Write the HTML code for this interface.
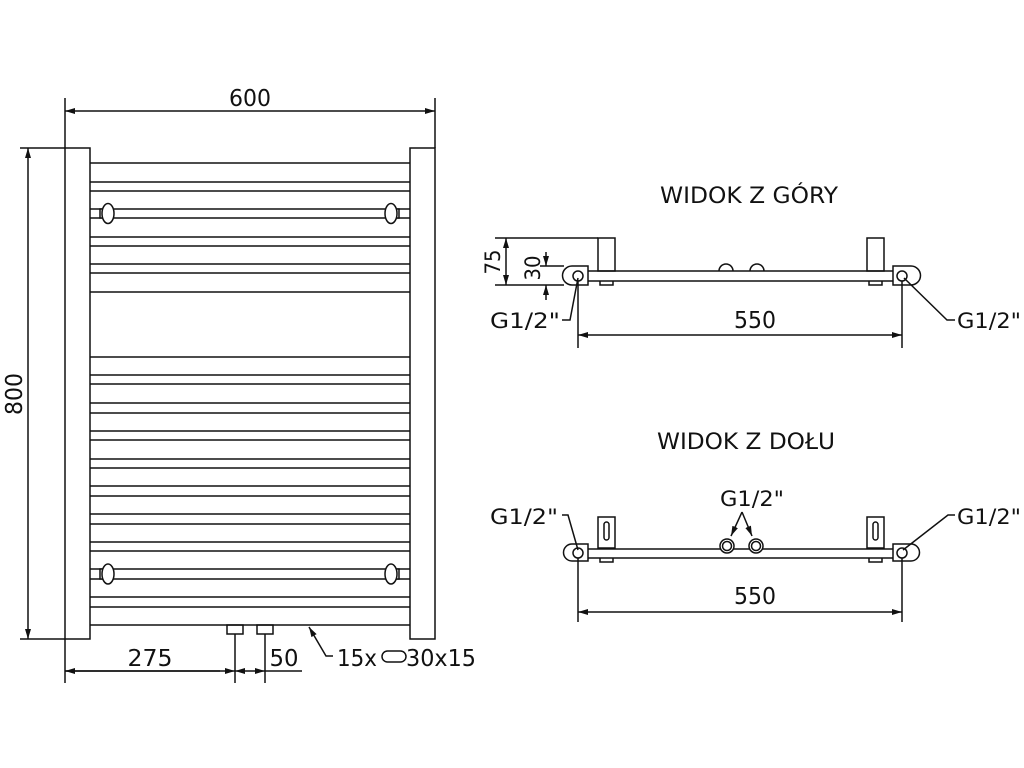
<!DOCTYPE html>
<html><head><meta charset="utf-8"><style>html,body{margin:0;padding:0;background:#fff}svg{display:block}</style></head>
<body>
<svg width="1024" height="768" viewBox="0 0 1024 768" xmlns="http://www.w3.org/2000/svg" font-family="'DejaVu Sans','Liberation Sans',sans-serif" fill="none" stroke="#111" stroke-width="1.5">
<defs>
<marker id="a" viewBox="0 0 10 6" refX="10" refY="3" markerWidth="10" markerHeight="6" orient="auto-start-reverse" markerUnits="userSpaceOnUse"><path d="M0,0L10,3L0,6z" fill="#111" stroke="none"/></marker>
</defs>
<g fill="#111" stroke="none">
<text x="250" y="106" font-size="23" text-anchor="middle" textLength="42" lengthAdjust="spacingAndGlyphs">600</text>
<text transform="translate(22,394) rotate(-90)" font-size="23" text-anchor="middle" textLength="42" lengthAdjust="spacingAndGlyphs">800</text>
<text x="150" y="666" font-size="23" text-anchor="middle" textLength="45" lengthAdjust="spacingAndGlyphs">275</text>
<text x="284" y="666" font-size="23" text-anchor="middle" textLength="29" lengthAdjust="spacingAndGlyphs">50</text>
<text x="337" y="666" font-size="23" textLength="40" lengthAdjust="spacingAndGlyphs">15x</text>
<text x="406" y="666" font-size="23" textLength="70" lengthAdjust="spacingAndGlyphs">30x15</text>
<text x="660" y="203" font-size="22" textLength="178" lengthAdjust="spacingAndGlyphs">WIDOK Z GÓRY</text>
<text transform="translate(500,262) rotate(-90)" font-size="21" text-anchor="middle" textLength="25" lengthAdjust="spacingAndGlyphs">75</text>
<text transform="translate(540,268) rotate(-90)" font-size="21" text-anchor="middle" textLength="25" lengthAdjust="spacingAndGlyphs">30</text>
<text x="490" y="328" font-size="21" textLength="70" lengthAdjust="spacingAndGlyphs">G1/2"</text>
<text x="957" y="328" font-size="21" textLength="64" lengthAdjust="spacingAndGlyphs">G1/2"</text>
<text x="755" y="328" font-size="23" text-anchor="middle" textLength="42" lengthAdjust="spacingAndGlyphs">550</text>
<text x="657" y="449" font-size="22" textLength="178" lengthAdjust="spacingAndGlyphs">WIDOK Z DOŁU</text>
<text x="752" y="506" font-size="21" text-anchor="middle" textLength="64" lengthAdjust="spacingAndGlyphs">G1/2"</text>
<text x="490" y="524" font-size="21" textLength="68" lengthAdjust="spacingAndGlyphs">G1/2"</text>
<text x="957" y="524" font-size="21" textLength="64" lengthAdjust="spacingAndGlyphs">G1/2"</text>
<text x="755" y="604" font-size="23" text-anchor="middle" textLength="42" lengthAdjust="spacingAndGlyphs">550</text>
</g>
<!-- FRONT VIEW -->
<rect x="65" y="148" width="25" height="491"/>
<rect x="410" y="148" width="25" height="491"/>
<path d="M90 163H410M90 182H410M90 191H410M90 209H410M90 218H410M90 237H410M90 246H410M90 264H410M90 273H410M90 292H410
M90 357H410M90 375H410M90 384H410M90 403H410M90 413H410M90 431H410M90 440H410M90 459H410M90 468H410M90 486H410M90 496H410M90 514H410M90 524H410M90 542H410M90 551H410M90 569H410M90 579H410M90 597H410M90 607H410M90 625H410"/>
<g fill="#fff">
<rect x="100" y="209" width="4" height="9"/><ellipse cx="108" cy="213.5" rx="6" ry="10"/>
<rect x="395" y="209" width="4" height="9"/><ellipse cx="391" cy="213.5" rx="6" ry="10"/>
<rect x="100" y="569" width="4" height="10"/><ellipse cx="108" cy="574" rx="6" ry="10"/>
<rect x="395" y="569" width="4" height="10"/><ellipse cx="391" cy="574" rx="6" ry="10"/>
</g>
<path d="M65 98V148M435 98V148"/>
<path d="M65 111H435" marker-start="url(#a)" marker-end="url(#a)"/>
<path d="M20 148H65M20 639H65"/>
<path d="M28 148V639" marker-start="url(#a)" marker-end="url(#a)"/>
<rect x="227" y="625" width="16" height="9"/>
<rect x="257" y="625" width="16" height="9"/>
<path d="M235 634V683M265 634V683M65 639V683"/>
<path d="M65 671H220" marker-start="url(#a)"/>
<path d="M65 671H235" marker-end="url(#a)"/>
<path d="M235 671H250" marker-start="url(#a)"/>
<path d="M250 671H265" marker-end="url(#a)"/>
<path d="M265 671H302"/>
<path d="M333 656H326L309 627" marker-end="url(#a)"/>
<rect x="382" y="651" width="24" height="11" rx="5.5"/>
<!-- TOP VIEW -->
<path d="M588 271H893M588 281H893"/>
<path d="M588 266H572A9.5 9.5 0 0 0 572 285H588Z"/>
<circle cx="578" cy="276" r="5"/>
<path d="M893 266H911A9.5 9.5 0 0 1 911 285H893Z"/>
<circle cx="902" cy="276" r="5"/>
<rect x="598" y="238" width="17" height="33"/>
<rect x="867" y="238" width="17" height="33"/>
<path d="M600 281V285H613V281M869 281V285H882V281"/>
<path d="M719 271A7 7 0 0 1 733 271M750 271A7 7 0 0 1 764 271"/>
<path d="M495 238H598M495 285H564M540 266H564"/>
<path d="M506 238V285" marker-start="url(#a)" marker-end="url(#a)"/>
<path d="M546 252V266" marker-end="url(#a)"/>
<path d="M546 300V285" marker-end="url(#a)"/>
<path d="M562 320H570L578 278"/>
<path d="M955 320H947L904 278"/>
<path d="M578 281V348M902 281V348"/>
<path d="M578 335H902" marker-start="url(#a)" marker-end="url(#a)"/>
<!-- BOTTOM VIEW -->
<path d="M588 549H893M588 558H893"/>
<path d="M588 544H572A8.5 8.5 0 0 0 572 561H588Z"/>
<circle cx="578" cy="553" r="5"/>
<path d="M893 544H911A8.5 8.5 0 0 1 911 561H893Z"/>
<circle cx="902" cy="553" r="5"/>
<rect x="598" y="517" width="17" height="31"/>
<rect x="604" y="522" width="5" height="18" rx="2.5"/>
<rect x="867" y="517" width="17" height="31"/>
<rect x="873" y="522" width="5" height="18" rx="2.5"/>
<path d="M600 558V562H613V558M869 558V562H882V558"/>
<g fill="#fff"><circle cx="727" cy="546" r="7"/><circle cx="727" cy="546" r="4.5"/><circle cx="756" cy="546" r="7"/><circle cx="756" cy="546" r="4.5"/></g>
<path d="M742 512L731 536" marker-end="url(#a)"/>
<path d="M742 512L752 536" marker-end="url(#a)"/>
<path d="M562 515H568L578 550"/>
<path d="M955 515H948L903 550"/>
<path d="M578 558V622M902 558V622"/>
<path d="M578 612H902" marker-start="url(#a)" marker-end="url(#a)"/>
</svg>
</body></html>
